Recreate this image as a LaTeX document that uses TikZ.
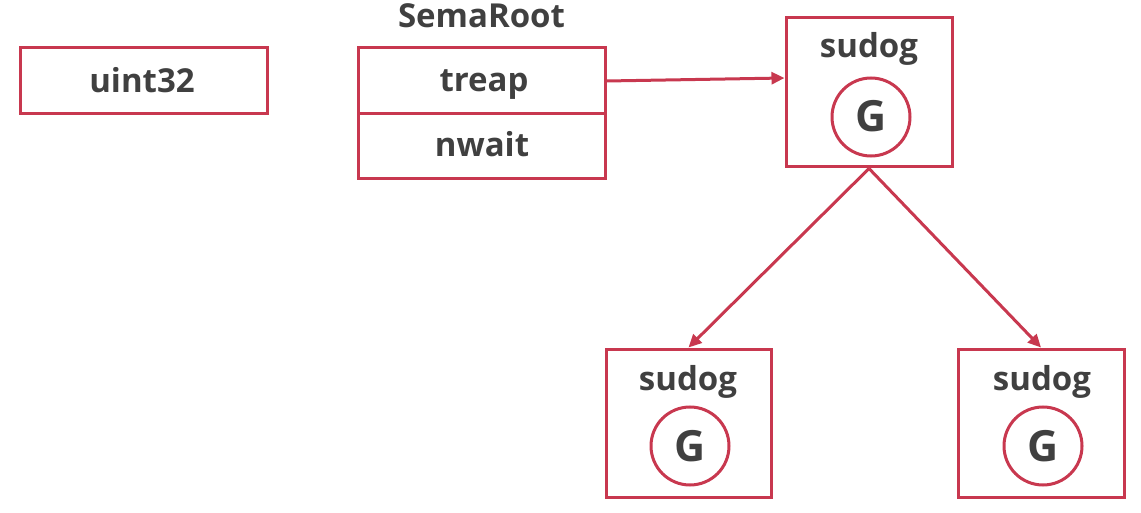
\documentclass[tikz,border=0pt]{standalone}
\usepackage{fontspec}
\setmainfont{Open Sans}[BoldFont={Open Sans Bold}]
\usetikzlibrary{arrows.meta}
\definecolor{edge}{HTML}{C8384F}
\definecolor{ink}{HTML}{404040}
\tikzset{
  x=1pt, y=-1pt,
  box/.style={draw=edge, line width=3pt, inner sep=0pt},
  lbl/.style={text=ink, font=\fontsize{33}{35}\selectfont\bfseries, inner sep=0pt, anchor=base},
  gcirc/.style={draw=edge, line width=3pt, circle, minimum size=78pt, inner sep=0pt},
  glbl/.style={lbl, font=\fontsize{43}{45}\selectfont\bfseries},
  link/.style={draw=edge, line width=3pt, -{Triangle[length=13pt,width=12pt]}}
}
\begin{document}
\begin{tikzpicture}
\useasboundingbox (0,0) rectangle (1141,513);
% plain word
\node[box, minimum width=247pt, minimum height=66pt] (u) at (143.5,81) {};
\node[lbl] (ut) at (142,93) {uint32};
% SemaRoot struct with two fields
\node[box, minimum width=247pt, minimum height=66pt] (treap) at (481.5,81) {};
\node[box, minimum width=247pt, minimum height=65pt] (nwait) at (481.5,146.5) {};
\node[lbl] (tt) at (484,92) {treap};
\node[lbl] (nt) at (482,157) {nwait};
\node[lbl] (title) at (481.5,28) {SemaRoot};
% sudog nodes
\node[box, minimum width=166pt, minimum height=149pt] (s0) at (869,92.5) {};
\node[lbl] (s0t) at (869,58) {sudog};
\node[gcirc] (g0) at (871,117) {};
\node[glbl] (g0t) at (871,132) {G};
\node[box, minimum width=165pt, minimum height=148pt] (s1) at (688.5,423) {};
\node[lbl] (s1t) at (688,390) {sudog};
\node[gcirc] (g1) at (690,446) {};
\node[glbl] (g1t) at (690,461) {G};
\node[box, minimum width=166pt, minimum height=148pt] (s2) at (1041,423) {};
\node[lbl] (s2t) at (1042,390) {sudog};
\node[gcirc] (g2) at (1043,446) {};
\node[glbl] (g2t) at (1043,461) {G};
% links
\draw[link] (treap.east) -- (s0.west |- 0,78);
\draw[link] (s0.south) -- (s1.north);
\draw[link] (s0.south) -- (s2.north);
\end{tikzpicture}
\end{document}
